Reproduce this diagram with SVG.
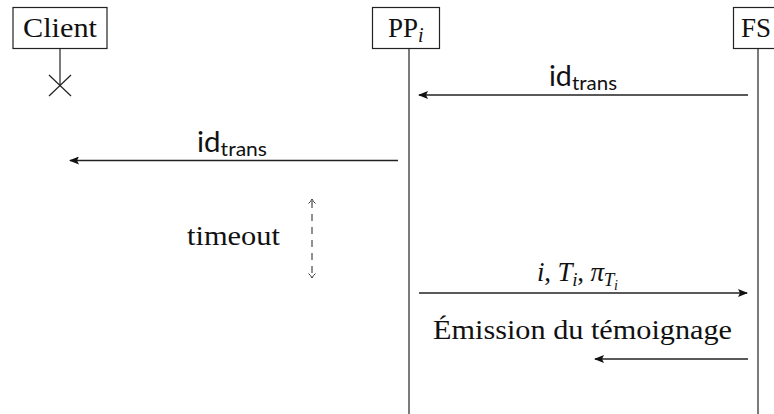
<svg xmlns="http://www.w3.org/2000/svg" width="774" height="414" viewBox="0 0 774 414">
  <defs>
    <marker id="head" viewBox="0 0 10 8" refX="9" refY="4" markerWidth="10" markerHeight="8" markerUnits="userSpaceOnUse" orient="auto">
      <path d="M0,0 L10,4 L0,8 L2,4 Z" fill="#111"/>
    </marker>
  </defs>
  <style>
    .box { fill: #fff; stroke: #222; stroke-width: 1.2; }
    .life { stroke: #5a5a5a; stroke-width: 1.6; fill: none; }
    .msg { stroke: #222; stroke-width: 1.3; fill: none; marker-end: url(#head); }
    .tip { fill: none; stroke: #222; stroke-width: 0.9; }
    .serif { font-family: "Liberation Serif", "DejaVu Serif", serif; fill: #111; }
    .sans { font-family: "Lato", "Open Sans", "DejaVu Sans", sans-serif; fill: #111; }
  </style>
  <rect width="774" height="414" fill="#fff"/>

  <!-- participants and lifelines -->
  <g id="client">
    <line class="life" x1="60" y1="48" x2="60" y2="86"/>
    <line x1="49" y1="75" x2="71" y2="96" stroke="#222" stroke-width="1.2"/>
    <line x1="49" y1="96" x2="71" y2="75" stroke="#222" stroke-width="1.2"/>
    <rect class="box" x="13" y="7.5" width="94" height="41"/>
    <text class="serif" x="60" y="37" font-size="27" text-anchor="middle" textLength="74" lengthAdjust="spacingAndGlyphs">Client</text>
  </g>

  <g id="ppi">
    <line class="life" x1="409" y1="48" x2="409" y2="414"/>
    <rect class="box" x="372.5" y="7.5" width="67" height="41"/>
    <text class="serif" x="388" y="37" font-size="27">PP<tspan font-style="italic" font-size="20" dy="5">i</tspan></text>
  </g>

  <g id="fs">
    <line class="life" x1="758" y1="48" x2="758" y2="414"/>
    <rect class="box" x="733.5" y="7.5" width="50" height="41"/>
    <text class="serif" x="741" y="37" font-size="27">FS</text>
  </g>

  <!-- messages -->
  <g id="connectors">
    <line class="msg" x1="748" y1="95" x2="419" y2="95"/>
    <line class="msg" x1="398" y1="160.5" x2="70" y2="160.5"/>
    <!-- timeout span: dashed double-ended arrow -->
    <line x1="312" y1="201" x2="312" y2="276" stroke="#222" stroke-width="1" stroke-dasharray="7,6"/>
    <path class="tip" d="M308.5,203.5 Q311,201.5 312,199 Q313,201.5 315.5,203.5"/>
    <path class="tip" d="M308.5,273.5 Q311,275.5 312,278 Q313,275.5 315.5,273.5"/>
    <line class="msg" x1="419" y1="293" x2="747" y2="293"/>
    <line class="msg" x1="748" y1="359" x2="595" y2="359"/>
  </g>

  <!-- labels -->
  <g id="labels">
    <text class="sans" x="549" y="86" font-size="28" textLength="68" lengthAdjust="spacingAndGlyphs">id<tspan font-size="20" dy="4">trans</tspan></text>
    <text class="sans" x="197" y="152" font-size="28" textLength="70" lengthAdjust="spacingAndGlyphs">id<tspan font-size="20" dy="4">trans</tspan></text>
    <text class="serif" x="187" y="245" font-size="27" textLength="93" lengthAdjust="spacingAndGlyphs">timeout</text>
    <text class="serif" x="537" y="281" font-size="27" font-style="italic" textLength="81" lengthAdjust="spacing">i<tspan font-style="normal">, </tspan>T<tspan font-size="19" dy="5">i</tspan><tspan font-style="normal" dy="-5">, </tspan>π<tspan font-size="19" dy="5">T</tspan><tspan font-size="14" dy="4">i</tspan></text>
    <text class="serif" x="433" y="339" font-size="27" textLength="299" lengthAdjust="spacingAndGlyphs">Émission du témoignage</text>
  </g>
</svg>
